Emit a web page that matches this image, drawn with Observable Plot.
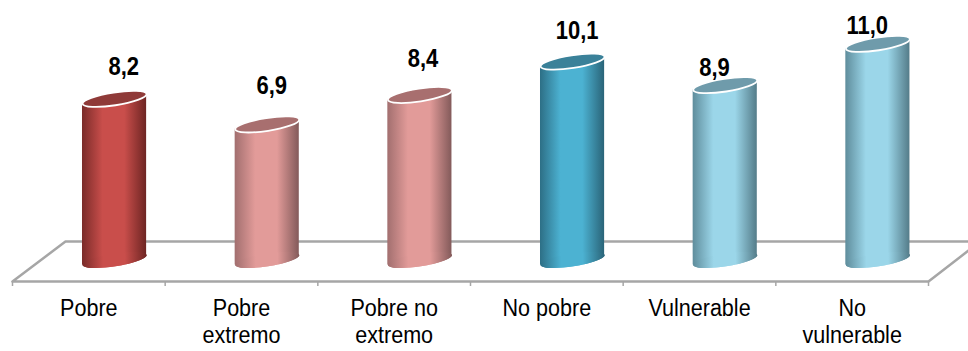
<!DOCTYPE html>
<html>
<head>
<meta charset="utf-8">
<script src="https://cdn.jsdelivr.net/npm/d3@7"></script>
<script src="https://cdn.jsdelivr.net/npm/@observablehq/plot@0.6"></script>
<style>html,body{margin:0;padding:0;background:#fff;overflow:hidden}svg{display:block}</style>
</head>
<body>
<div id="chart"></div>
<script>
const categories = ["Pobre", "Pobre\nextremo", "Pobre no\nextremo", "No pobre", "Vulnerable", "No\nvulnerable"];
const values = [8.2, 6.9, 8.4, 10.1, 8.9, 11.0];
const tones = ["red", "pink", "pink", "teal", "sky", "sky"];
const labelLift = [1.6, 1.98, 1.83, 1.56, 0.86, 0.9];
const labelShift = [0.06, 0.03, 0.02, 0.03, -0.07, -0.07];
const floorOutline = [[6.262, 0.94], [0.347, 0.94], [0, -1.095], [6, -1.095], [6.262, 0.48]];
const tickPositions = [0, 1, 2, 3, 4, 5, 6];

const gradients = {
  red:  ["#7a2b29", "#c94e4b", "#c94e4b", "#6e2523"],
  pink: ["#a26f6f", "#e29b99", "#e29b99", "#835a5a"],
  teal: ["#2d6f86", "#4cb2d2", "#4cb2d2", "#2a6478"],
  sky:  ["#5f8d9c", "#9bd6e9", "#9bd6e9", "#547c89"]
};
const capColors = {red: "#8f3a38", pink: "#a86f6f", teal: "#3a8199", sky: "#6f9bab"};

const barLeft = 0.4585, barRight = 0.8785, tilt = 0.25;
const rows = categories.map((c, i) => ({c, i, v: values[i], tone: tones[i]}));
const cx = d => d.i + (barLeft + barRight) / 2;

const tiltedEllipse = {
  draw(ctx, size) {
    const r = Math.sqrt(size / Math.PI);
    const a = -8.8 * Math.PI / 180, cos = Math.cos(a), sin = Math.sin(a);
    const rx = r / cos, ry = r * 0.2, k = 0.5523;
    const p = (x, y) => [x * rx * cos - y * ry * sin, x * rx * sin + y * ry * cos];
    ctx.moveTo(...p(1, 0));
    ctx.bezierCurveTo(...p(1, k), ...p(k, 1), ...p(0, 1));
    ctx.bezierCurveTo(...p(-k, 1), ...p(-1, k), ...p(-1, 0));
    ctx.bezierCurveTo(...p(-1, -k), ...p(-k, -1), ...p(0, -1));
    ctx.bezierCurveTo(...p(k, -1), ...p(1, -k), ...p(1, 0));
    ctx.closePath();
  }
};

const defs = () => {
  const g = document.createElementNS("http://www.w3.org/2000/svg", "defs");
  g.innerHTML = Object.entries(gradients).map(([k, [a, b, c, d]]) =>
    `<linearGradient id="cyl-${k}" x1="0" x2="1" y1="0" y2="0">
      <stop offset="0" stop-color="${a}"/><stop offset="0.32" stop-color="${b}"/>
      <stop offset="0.66" stop-color="${c}"/><stop offset="1" stop-color="${d}"/>
    </linearGradient>`).join("") +
    `<filter id="soft" x="-20%" y="-10%" width="140%" height="120%"><feDropShadow dx="0" dy="0" stdDeviation="1.6" flood-color="#000" flood-opacity="0.28"/></filter>`;
  return g;
};

const body = rows.flatMap(d => [
  {i: d.i, x: d.i + barLeft, y1: -tilt, y2: d.v - tilt, tone: d.tone},
  {i: d.i, x: d.i + barRight, y1: tilt, y2: d.v + tilt, tone: d.tone}
]);

const font = "'Liberation Sans',Arial,sans-serif";

const plot = Plot.plot({
  width: 968,
  height: 351,
  marginTop: 0,
  marginRight: 40,
  marginBottom: 70,
  marginLeft: 12,
  style: {fontFamily: font, background: "#fff", color: "#000", overflow: "hidden"},
  x: {type: "linear", domain: [0, 6], axis: null},
  y: {domain: [-1.095, 13.21], axis: null},
  marks: [
    defs,
    Plot.line(floorOutline, {x: d => d[0], y: d => d[1], stroke: "#a6a6a6", strokeWidth: 2.5}),
    Plot.axisX({ticks: tickPositions, tickFormat: () => "", tickSize: 5, stroke: "#a6a6a6", strokeWidth: 1.5, label: null}),
    Plot.axisX({
      ticks: rows.map(d => d.i + 0.5),
      tickFormat: x => categories[Math.floor(x)],
      tickSize: 0,
      tickPadding: 15,
      fontSize: 24.5,
      lineHeight: 1.1,
      lineAnchor: "top",
      fill: "#000",
      label: null
    }),
    Plot.dot(rows, {x: cx, y: 0, r: 32, symbol: tiltedEllipse, fill: d => `url(#cyl-${d.tone})`, stroke: "none", style: {filter: "url(#soft)"}}),
    ...rows.map(d => Plot.areaY(body.filter(b => b.i === d.i), {
      x: "x", y1: "y1", y2: "y2", fill: `url(#cyl-${d.tone})`, style: {filter: "url(#soft)"}
    })),
    Plot.dot(rows, {x: cx, y: 0, r: 32, symbol: tiltedEllipse, fill: d => `url(#cyl-${d.tone})`, stroke: "none"}),
    Plot.dot(rows, {x: cx, y: "v", r: 32, symbol: tiltedEllipse, fill: d => capColors[d.tone], stroke: "#fff", strokeWidth: 1.8}),
    Plot.text(rows, {
      x: d => cx(d) + labelShift[d.i],
      y: d => d.v + labelLift[d.i],
      text: d => d.v.toFixed(1).replace(".", ","),
      fontSize: 25,
      fontWeight: "bold",
      fill: "#000"
    })
  ]
});
// the reference's type is condensed: narrow each text horizontally about its own anchor
plot.querySelectorAll("text").forEach(t => {
  const tr = t.getAttribute("transform") || "";
  t.setAttribute("transform", tr + " scale(0.88,1)");
});
document.getElementById("chart").append(plot);
</script>
</body>
</html>
